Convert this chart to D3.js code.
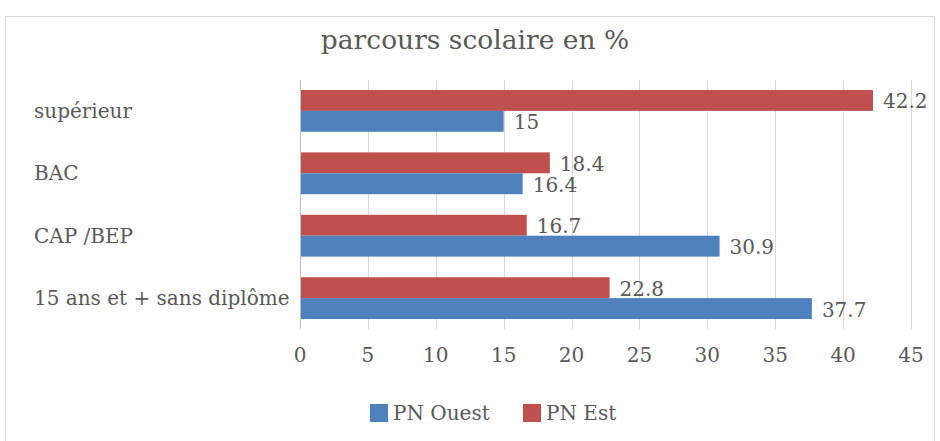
<!DOCTYPE html>
<html lang="fr">
<head>
<meta charset="UTF-8">
<title>parcours scolaire en %</title>
<script src="https://d3js.org/d3.v7.min.js"></script>
<style>
    body, html { margin: 0; background: #fff; }
    svg { display: block; }
    text { font-family: "DejaVu Serif", serif; fill: #595959; }
</style>
</head>
<body>
<script>
    const categories = ["supérieur", "BAC", "CAP /BEP", "15 ans et + sans diplôme"];
    const seriesNames = ["PN Est", "PN Ouest"];
    const pnEst = [42.2, 18.4, 16.7, 22.8];
    const pnOuest = [15, 16.4, 30.9, 37.7];
    const xTicks = [0, 5, 10, 15, 20, 25, 30, 35, 40, 45];
    const legendOrder = ["PN Ouest", "PN Est"];
    const colors = { "PN Est": "#C0504D", "PN Ouest": "#4F81BD" };

    const width = 940, height = 441;
    const svg = d3.select("body").append("svg")
        .attr("width", width)
        .attr("height", height);

    // chart frame
    svg.append("rect")
        .attr("x", 5.5).attr("y", 16.5)
        .attr("width", 929).attr("height", 440)
        .attr("fill", "#fff")
        .attr("stroke", "#d9d9d9");

    svg.append("text")
        .attr("x", 475).attr("y", 49)
        .attr("text-anchor", "middle")
        .style("font-size", "26.5px")
        .text("parcours scolaire en %");

    const x = d3.scaleLinear().domain([0, 45]).range([300, 911]);
    const y = d3.scaleBand().domain(categories).range([80, 329]).paddingInner(0.33).paddingOuter(0.16);
    const sub = d3.scaleBand().domain(seriesNames).range([0, y.bandwidth()]);

    // gridlines
    svg.append("g").selectAll("line")
        .data(xTicks.slice(1))
        .join("line")
        .attr("x1", d => Math.round(x(d)) + 0.5).attr("x2", d => Math.round(x(d)) + 0.5)
        .attr("y1", 80).attr("y2", 329)
        .attr("stroke", "#d9d9d9");

    const rows = categories.map((c, i) => ({ cat: c, values: [
        { name: "PN Est", v: pnEst[i] },
        { name: "PN Ouest", v: pnOuest[i] }
    ]}));

    const g = svg.append("g").selectAll("g")
        .data(rows)
        .join("g")
        .attr("transform", d => `translate(0,${y(d.cat)})`);

    g.selectAll("rect")
        .data(d => d.values)
        .join("rect")
        .attr("x", x(0))
        .attr("y", d => sub(d.name))
        .attr("width", d => x(d.v) - x(0))
        .attr("height", sub.bandwidth())
        .attr("fill", d => colors[d.name]);

    g.selectAll("text")
        .data(d => d.values)
        .join("text")
        .attr("x", d => x(d.v) + 10)
        .attr("y", d => sub(d.name) + sub.bandwidth() / 2 + 1)
        .attr("dy", "0.35em")
        .style("font-size", "20px")
        .text(d => d.v);

    // left axis line
    svg.append("line")
        .attr("x1", 300.5).attr("x2", 300.5)
        .attr("y1", 80).attr("y2", 329)
        .attr("stroke", "#bfbfbf");

    // category labels
    svg.append("g").selectAll("text")
        .data(categories)
        .join("text")
        .attr("x", 34)
        .attr("y", d => y(d) + y.bandwidth() / 2)
        .attr("dy", "0.35em")
        .style("font-size", "20px")
        .text(d => d);

    // x tick labels
    svg.append("g").selectAll("text")
        .data(xTicks)
        .join("text")
        .attr("x", d => x(d))
        .attr("y", 355)
        .attr("dy", "0.35em")
        .attr("text-anchor", "middle")
        .style("font-size", "20px")
        .text(d => d);

    // legend
    const legendX = { "PN Ouest": 370, "PN Est": 523 };
    const lg = svg.append("g").selectAll("g")
        .data(legendOrder)
        .join("g")
        .attr("transform", d => `translate(${legendX[d]},404)`);
    lg.append("rect")
        .attr("width", 18).attr("height", 18)
        .attr("fill", d => colors[d]);
    lg.append("text")
        .attr("x", 23).attr("y", 9)
        .attr("dy", "0.35em")
        .style("font-size", "20px")
        .text(d => d);
</script>
</body>
</html>
